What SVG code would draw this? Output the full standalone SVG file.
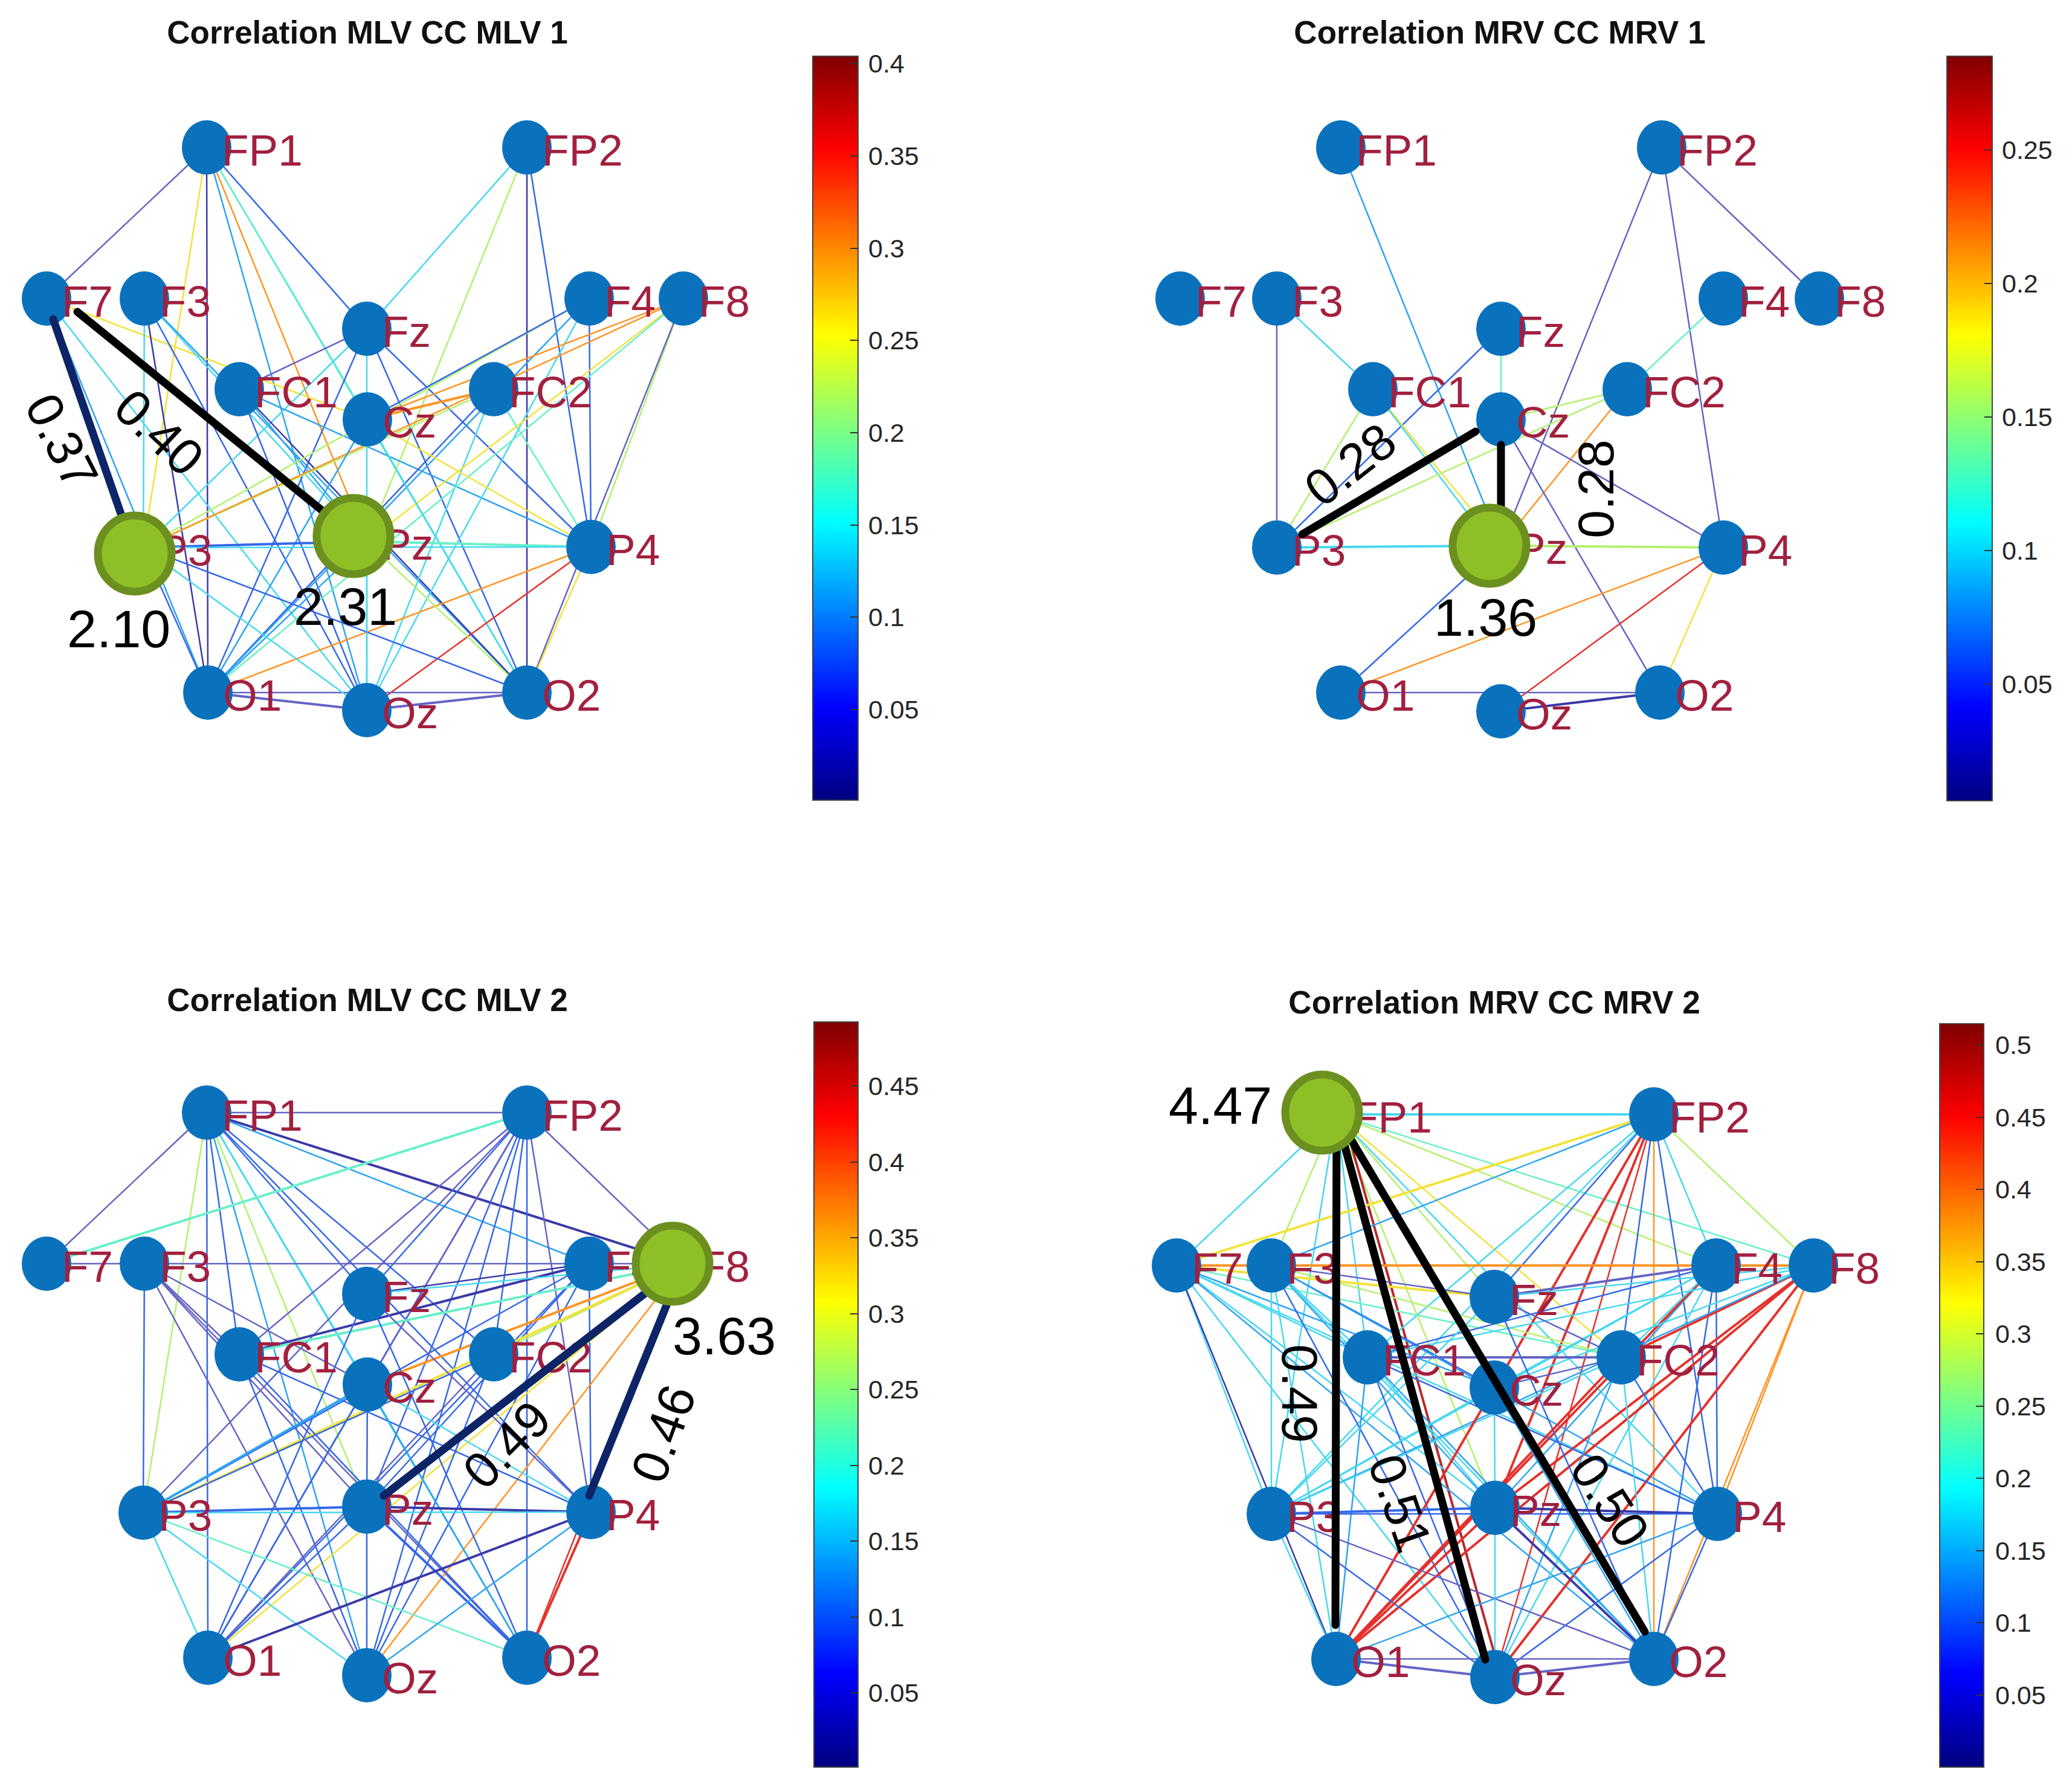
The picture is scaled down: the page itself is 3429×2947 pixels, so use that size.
<svg xmlns="http://www.w3.org/2000/svg" width="3429" height="2947" viewBox="0 0 3429 2947">
<defs>
<linearGradient id="jet" x1="0" y1="1" x2="0" y2="0">
<stop offset="0" stop-color="#000080"/><stop offset="0.125" stop-color="#0000ff"/><stop offset="0.375" stop-color="#00ffff"/><stop offset="0.5" stop-color="#80ff80"/><stop offset="0.625" stop-color="#ffff00"/><stop offset="0.875" stop-color="#ff0000"/><stop offset="1" stop-color="#800000"/>
</linearGradient>
<style>
.e line{fill:none;stroke-width:2.5;stroke-linecap:round}
.e .t{stroke-width:4}
.n{stroke:#3a3aa8}.p{stroke:#6464c4}.b{stroke:#3468e8}.lb{stroke:#2ea4f2}.c{stroke:#48d8f0}.a{stroke:#68f0c8}.g{stroke:#b4f070}.y{stroke:#f2e23a}.o{stroke:#ff9424}.r{stroke:#e4312c}.dr{stroke:#b82828}
.node ellipse{fill:#0a72bd}
.node text{font-family:"Liberation Sans",Arial,sans-serif;font-size:73px;fill:#a2203f}
.hl{fill:#8fbf26;stroke:#6b9020;stroke-width:13}
.s line{stroke-linecap:round;fill:none}
.blk{stroke:#000;stroke-width:13}
.navy{stroke:#0d2466;stroke-width:13}
.val{font-family:"Liberation Sans",Arial,sans-serif;font-size:88px;fill:#000}
.el{font-family:"Liberation Sans",Arial,sans-serif;font-size:84px;fill:#000;text-anchor:middle}
.title{font-family:"Liberation Sans",Arial,sans-serif;font-weight:bold;font-size:53px;text-anchor:middle;fill:#111}
.bar{fill:url(#jet);stroke:#444;stroke-width:2}
.tick{stroke:#333;stroke-width:2}
.tl{font-family:"Liberation Sans",Arial,sans-serif;font-size:43px;fill:#262626}
</style>
</defs>
<rect width="3429" height="2947" fill="#fff"/>

<!-- ================= PANEL 1 ================= -->
<g id="panel1">
<text class="title" x="608" y="72">Correlation MLV CC MLV 1</text>
<g id="p1-edges" class="e">
<line class="p" x1="342" y1="244" x2="77" y2="494"/>
<line class="y" x1="342" y1="244" x2="237" y2="906"/>
<line class="n" x1="342" y1="244" x2="344" y2="1146"/>
<line class="o" x1="342" y1="244" x2="607" y2="896"/>
<line class="b" x1="342" y1="244" x2="607" y2="544"/>
<line class="c" x1="342" y1="244" x2="608" y2="694"/>
<line class="lb" x1="342" y1="244" x2="607" y2="1175"/>
<line class="a" x1="342" y1="244" x2="872" y2="1146"/>
<line class="c" x1="872" y1="244" x2="607" y2="544"/>
<line class="g" x1="872" y1="244" x2="607" y2="896"/>
<line class="n" x1="872" y1="244" x2="872" y2="1146"/>
<line class="b" x1="872" y1="244" x2="978" y2="905"/>
<line class="y" x1="77" y1="494" x2="608" y2="694"/>
<line class="c" x1="77" y1="494" x2="607" y2="1175"/>
<line class="lb" x1="77" y1="494" x2="344" y2="1146"/>
<line class="n" x1="239" y1="494" x2="344" y2="1146"/>
<line class="b" x1="239" y1="494" x2="607" y2="1175"/>
<line class="c" x1="239" y1="494" x2="607" y2="896"/>
<line class="c" x1="239" y1="494" x2="237" y2="906"/>
<line class="lb" x1="239" y1="494" x2="872" y2="1146"/>
<line class="p" x1="607" y1="544" x2="396" y2="644"/>
<line class="c" x1="607" y1="544" x2="237" y2="906"/>
<line class="b" x1="607" y1="544" x2="344" y2="1146"/>
<line class="c" x1="607" y1="544" x2="607" y2="1175"/>
<line class="b" x1="607" y1="544" x2="872" y2="1146"/>
<line class="b" x1="607" y1="544" x2="978" y2="905"/>
<line class="b" x1="396" y1="644" x2="607" y2="1175"/>
<line class="n" x1="396" y1="644" x2="872" y2="1146"/>
<line class="lb" x1="396" y1="644" x2="978" y2="905"/>
<line class="lb" x1="396" y1="644" x2="607" y2="896"/>
<line class="g" x1="817" y1="644" x2="237" y2="906"/>
<line class="b" x1="817" y1="644" x2="344" y2="1146"/>
<line class="c" x1="817" y1="644" x2="607" y2="1175"/>
<line class="a" x1="817" y1="644" x2="978" y2="905"/>
<line class="g" x1="975" y1="494" x2="237" y2="906"/>
<line class="b" x1="975" y1="494" x2="608" y2="694"/>
<line class="lb" x1="975" y1="494" x2="344" y2="1146"/>
<line class="c" x1="975" y1="494" x2="607" y2="1175"/>
<line class="b" x1="975" y1="494" x2="978" y2="905"/>
<line class="o" x1="1131" y1="494" x2="608" y2="694"/>
<line class="o" x1="1131" y1="494" x2="237" y2="906"/>
<line class="g" x1="1131" y1="494" x2="978" y2="905"/>
<line class="p" x1="1131" y1="494" x2="872" y2="1146"/>
<line class="y" x1="1131" y1="494" x2="607" y2="896"/>
<line class="a" x1="1131" y1="494" x2="344" y2="1146"/>
<line class="o t" x1="608" y1="694" x2="817" y2="644"/>
<line class="y" x1="608" y1="694" x2="978" y2="905"/>
<line class="lb" x1="608" y1="694" x2="344" y2="1146"/>
<line class="c" x1="608" y1="694" x2="872" y2="1146"/>
<line class="b t" x1="237" y1="906" x2="607" y2="896"/>
<line class="a t" x1="607" y1="896" x2="978" y2="905"/>
<line class="c" x1="237" y1="906" x2="978" y2="905"/>
<line class="o" x1="978" y1="905" x2="344" y2="1146"/>
<line class="r" x1="978" y1="905" x2="607" y2="1175"/>
<line class="y" x1="978" y1="905" x2="872" y2="1146"/>
<line class="p t" x1="344" y1="1146" x2="607" y2="1175"/>
<line class="p" x1="344" y1="1146" x2="872" y2="1146"/>
<line class="p t" x1="607" y1="1175" x2="872" y2="1146"/>
<line class="b" x1="237" y1="906" x2="872" y2="1146"/>
<line class="g" x1="607" y1="896" x2="872" y2="1146"/>
<line class="b" x1="237" y1="906" x2="344" y2="1146"/>
<line class="lb" x1="607" y1="896" x2="344" y2="1146"/>
<line class="c" x1="237" y1="906" x2="607" y2="1175"/>
<line class="c" x1="607" y1="896" x2="607" y2="1175"/>
</g>
<g id="p1-FP1" class="node"><ellipse cx="342" cy="244" rx="41" ry="45"/><text x="367" y="274">FP1</text></g>
<g id="p1-FP2" class="node"><ellipse cx="872" cy="244" rx="41" ry="45"/><text x="897" y="274">FP2</text></g>
<g id="p1-F7" class="node"><ellipse cx="77" cy="494" rx="41" ry="45"/><text x="102" y="524">F7</text></g>
<g id="p1-F3" class="node"><ellipse cx="239" cy="494" rx="41" ry="45"/><text x="264" y="524">F3</text></g>
<g id="p1-F4" class="node"><ellipse cx="975" cy="494" rx="41" ry="45"/><text x="1000" y="524">F4</text></g>
<g id="p1-F8" class="node"><ellipse cx="1131" cy="494" rx="41" ry="45"/><text x="1156" y="524">F8</text></g>
<g id="p1-Fz" class="node"><ellipse cx="607" cy="544" rx="41" ry="45"/><text x="632" y="574">Fz</text></g>
<g id="p1-FC1" class="node"><ellipse cx="396" cy="644" rx="41" ry="45"/><text x="421" y="674">FC1</text></g>
<g id="p1-FC2" class="node"><ellipse cx="817" cy="644" rx="41" ry="45"/><text x="842" y="674">FC2</text></g>
<g id="p1-Cz" class="node"><ellipse cx="608" cy="694" rx="41" ry="45"/><text x="633" y="724">Cz</text></g>
<g id="p1-P3" class="node"><ellipse cx="237" cy="906" rx="41" ry="45"/><text x="262" y="936">P3</text></g>
<g id="p1-Pz" class="node"><ellipse cx="607" cy="896" rx="41" ry="45"/><text x="632" y="926">Pz</text></g>
<g id="p1-P4" class="node"><ellipse cx="978" cy="905" rx="41" ry="45"/><text x="1003" y="935">P4</text></g>
<g id="p1-O1" class="node"><ellipse cx="344" cy="1146" rx="41" ry="45"/><text x="369" y="1176">O1</text></g>
<g id="p1-Oz" class="node"><ellipse cx="607" cy="1175" rx="41" ry="45"/><text x="632" y="1205">Oz</text></g>
<g id="p1-O2" class="node"><ellipse cx="872" cy="1146" rx="41" ry="45"/><text x="897" y="1176">O2</text></g>
<g id="p1-strong" class="s">
<line class="navy" x1="88" y1="528" x2="223" y2="916"/>
<line class="blk" x1="128" y1="516" x2="585" y2="887"/>
</g>
<g id="p1-P3-hl"><ellipse class="hl" cx="223" cy="916" rx="61" ry="63"/><text class="val" x="111" y="1071">2.10</text></g>
<g id="p1-Pz-hl"><ellipse class="hl" cx="585" cy="887" rx="61" ry="63"/><text class="val" x="486" y="1034">2.31</text></g>
<text class="el" transform="translate(103,730) rotate(63)" y="30">0.37</text>
<text class="el" transform="translate(264,715) rotate(43)" y="30">0.40</text>
<g id="p1-colorbar">
<rect class="bar" x="1345" y="93" width="75" height="1231"/>
<line class="tick" x1="1407" y1="105" x2="1420" y2="105"/><text class="tl" x="1437" y="120">0.4</text>
<line class="tick" x1="1407" y1="258" x2="1420" y2="258"/><text class="tl" x="1437" y="273">0.35</text>
<line class="tick" x1="1407" y1="411" x2="1420" y2="411"/><text class="tl" x="1437" y="426">0.3</text>
<line class="tick" x1="1407" y1="563" x2="1420" y2="563"/><text class="tl" x="1437" y="578">0.25</text>
<line class="tick" x1="1407" y1="716" x2="1420" y2="716"/><text class="tl" x="1437" y="731">0.2</text>
<line class="tick" x1="1407" y1="869" x2="1420" y2="869"/><text class="tl" x="1437" y="884">0.15</text>
<line class="tick" x1="1407" y1="1021" x2="1420" y2="1021"/><text class="tl" x="1437" y="1036">0.1</text>
<line class="tick" x1="1407" y1="1174" x2="1420" y2="1174"/><text class="tl" x="1437" y="1189">0.05</text>
</g>
</g>

<!-- ================= PANEL 2 ================= -->
<g id="panel2">
<text class="title" x="2482" y="72">Correlation MRV CC MRV 1</text>
<g id="p2-edges" class="e">
<line class="lb" x1="2219" y1="244" x2="2484" y2="903"/>
<line class="p" x1="2750" y1="244" x2="2484" y2="903"/>
<line class="p" x1="2750" y1="244" x2="2852" y2="906"/>
<line class="p" x1="2750" y1="244" x2="3011" y2="494"/>
<line class="p" x1="2113" y1="494" x2="2113" y2="906"/>
<line class="c" x1="2113" y1="494" x2="2272" y2="644"/>
<line class="b" x1="2484" y1="544" x2="2113" y2="906"/>
<line class="a" x1="2484" y1="544" x2="2484" y2="694"/>
<line class="a" x1="2852" y1="494" x2="2693" y2="644"/>
<line class="g" x1="2693" y1="644" x2="2484" y2="694"/>
<line class="o" x1="2693" y1="644" x2="2484" y2="903"/>
<line class="y" x1="2272" y1="644" x2="2484" y2="903"/>
<line class="c" x1="2272" y1="644" x2="2470" y2="903"/>
<line class="g" x1="2272" y1="644" x2="2113" y2="906"/>
<line class="g" x1="2693" y1="644" x2="2113" y2="906"/>
<line class="c" x1="2484" y1="694" x2="2113" y2="906"/>
<line class="p" x1="2484" y1="694" x2="2852" y2="906"/>
<line class="p" x1="2484" y1="694" x2="2747" y2="1146"/>
<line class="c t" x1="2113" y1="906" x2="2484" y2="903"/>
<line class="g t" x1="2484" y1="903" x2="2852" y2="906"/>
<line class="o" x1="2852" y1="906" x2="2219" y2="1146"/>
<line class="r" x1="2852" y1="906" x2="2484" y2="1177"/>
<line class="y" x1="2852" y1="906" x2="2747" y2="1146"/>
<line class="b" x1="2484" y1="903" x2="2219" y2="1146"/>
<line class="p" x1="2219" y1="1146" x2="2747" y2="1146"/>
<line class="n t" x1="2484" y1="1177" x2="2747" y2="1146"/>
</g>
<g id="p2-FP1" class="node"><ellipse cx="2219" cy="244" rx="41" ry="45"/><text x="2244" y="274">FP1</text></g>
<g id="p2-FP2" class="node"><ellipse cx="2750" cy="244" rx="41" ry="45"/><text x="2775" y="274">FP2</text></g>
<g id="p2-F7" class="node"><ellipse cx="1953" cy="494" rx="41" ry="45"/><text x="1978" y="524">F7</text></g>
<g id="p2-F3" class="node"><ellipse cx="2113" cy="494" rx="41" ry="45"/><text x="2138" y="524">F3</text></g>
<g id="p2-F4" class="node"><ellipse cx="2852" cy="494" rx="41" ry="45"/><text x="2877" y="524">F4</text></g>
<g id="p2-F8" class="node"><ellipse cx="3011" cy="494" rx="41" ry="45"/><text x="3036" y="524">F8</text></g>
<g id="p2-Fz" class="node"><ellipse cx="2484" cy="544" rx="41" ry="45"/><text x="2509" y="574">Fz</text></g>
<g id="p2-FC1" class="node"><ellipse cx="2272" cy="644" rx="41" ry="45"/><text x="2297" y="674">FC1</text></g>
<g id="p2-FC2" class="node"><ellipse cx="2693" cy="644" rx="41" ry="45"/><text x="2718" y="674">FC2</text></g>
<g id="p2-Cz" class="node"><ellipse cx="2484" cy="694" rx="41" ry="45"/><text x="2509" y="724">Cz</text></g>
<g id="p2-P3" class="node"><ellipse cx="2113" cy="906" rx="41" ry="45"/><text x="2138" y="936">P3</text></g>
<g id="p2-Pz" class="node"><ellipse cx="2484" cy="903" rx="41" ry="45"/><text x="2509" y="933">Pz</text></g>
<g id="p2-P4" class="node"><ellipse cx="2852" cy="906" rx="41" ry="45"/><text x="2877" y="936">P4</text></g>
<g id="p2-O1" class="node"><ellipse cx="2219" cy="1146" rx="41" ry="45"/><text x="2244" y="1176">O1</text></g>
<g id="p2-Oz" class="node"><ellipse cx="2484" cy="1177" rx="41" ry="45"/><text x="2509" y="1207">Oz</text></g>
<g id="p2-O2" class="node"><ellipse cx="2747" cy="1146" rx="41" ry="45"/><text x="2772" y="1176">O2</text></g>
<g id="p2-strong" class="s">
<line class="blk" x1="2155" y1="884" x2="2442" y2="714"/>
<line class="blk" x1="2484" y1="736" x2="2484" y2="900"/>
</g>
<g id="p2-Pz-hl"><ellipse class="hl" cx="2465" cy="903" rx="61" ry="63"/><text class="val" x="2373" y="1052">1.36</text></g>
<text class="el" transform="translate(2234,768) rotate(-38)" y="30">0.28</text>
<text class="el" transform="translate(2640,809) rotate(-90)" y="30">0.28</text>
<g id="p2-colorbar">
<rect class="bar" x="3222" y="93" width="75" height="1232"/>
<line class="tick" x1="3284" y1="248" x2="3297" y2="248"/><text class="tl" x="3313" y="263">0.25</text>
<line class="tick" x1="3284" y1="469" x2="3297" y2="469"/><text class="tl" x="3313" y="484">0.2</text>
<line class="tick" x1="3284" y1="690" x2="3297" y2="690"/><text class="tl" x="3313" y="705">0.15</text>
<line class="tick" x1="3284" y1="911" x2="3297" y2="911"/><text class="tl" x="3313" y="926">0.1</text>
<line class="tick" x1="3284" y1="1132" x2="3297" y2="1132"/><text class="tl" x="3313" y="1147">0.05</text>
</g>
</g>

<!-- ================= PANEL 3 ================= -->
<g id="panel3">
<text class="title" x="608" y="1673">Correlation MLV CC MLV 2</text>
<g id="p3-edges" class="e">
<line class="p" x1="342" y1="1841" x2="872" y2="1841"/>
<line class="p" x1="342" y1="1841" x2="77" y2="2091"/>
<line class="n t" x1="342" y1="1841" x2="1131" y2="2091"/>
<line class="lb" x1="342" y1="1841" x2="975" y2="2091"/>
<line class="b" x1="342" y1="1841" x2="607" y2="2141"/>
<line class="b" x1="342" y1="1841" x2="396" y2="2241"/>
<line class="c" x1="342" y1="1841" x2="608" y2="2291"/>
<line class="g" x1="342" y1="1841" x2="607" y2="2493"/>
<line class="g" x1="342" y1="1841" x2="237" y2="2503"/>
<line class="b" x1="342" y1="1841" x2="344" y2="2743"/>
<line class="lb" x1="342" y1="1841" x2="607" y2="2772"/>
<line class="b" x1="342" y1="1841" x2="978" y2="2502"/>
<line class="b" x1="342" y1="1841" x2="817" y2="2241"/>
<line class="c" x1="342" y1="1841" x2="872" y2="2743"/>
<line class="a t" x1="872" y1="1841" x2="77" y2="2091"/>
<line class="p" x1="872" y1="1841" x2="1131" y2="2091"/>
<line class="b" x1="872" y1="1841" x2="607" y2="2141"/>
<line class="p" x1="872" y1="1841" x2="396" y2="2241"/>
<line class="b" x1="872" y1="1841" x2="608" y2="2291"/>
<line class="p" x1="872" y1="1841" x2="237" y2="2503"/>
<line class="b" x1="872" y1="1841" x2="607" y2="2493"/>
<line class="p" x1="872" y1="1841" x2="344" y2="2743"/>
<line class="b" x1="872" y1="1841" x2="607" y2="2772"/>
<line class="b" x1="872" y1="1841" x2="872" y2="2743"/>
<line class="p" x1="872" y1="1841" x2="978" y2="2502"/>
<line class="b" x1="872" y1="1841" x2="817" y2="2241"/>
<line class="p" x1="77" y1="2091" x2="1131" y2="2091"/>
<line class="p" x1="239" y1="2091" x2="608" y2="2291"/>
<line class="p" x1="239" y1="2091" x2="607" y2="2493"/>
<line class="b" x1="239" y1="2091" x2="237" y2="2503"/>
<line class="p" x1="239" y1="2091" x2="607" y2="2772"/>
<line class="p" x1="239" y1="2091" x2="396" y2="2241"/>
<line class="p" x1="239" y1="2091" x2="872" y2="2743"/>
<line class="n t" x1="975" y1="2091" x2="396" y2="2241"/>
<line class="n" x1="975" y1="2091" x2="607" y2="2141"/>
<line class="b" x1="975" y1="2091" x2="237" y2="2503"/>
<line class="b" x1="975" y1="2091" x2="344" y2="2743"/>
<line class="b" x1="975" y1="2091" x2="607" y2="2772"/>
<line class="b" x1="975" y1="2091" x2="607" y2="2493"/>
<line class="b" x1="975" y1="2091" x2="978" y2="2502"/>
<line class="a t" x1="1131" y1="2091" x2="396" y2="2241"/>
<line class="o t" x1="1131" y1="2091" x2="608" y2="2291"/>
<line class="g" x1="1131" y1="2091" x2="817" y2="2241"/>
<line class="y t" x1="1131" y1="2091" x2="237" y2="2503"/>
<line class="y" x1="1131" y1="2091" x2="344" y2="2743"/>
<line class="o" x1="1131" y1="2091" x2="607" y2="2772"/>
<line class="r" x1="1131" y1="2091" x2="872" y2="2743"/>
<line class="c" x1="1131" y1="2091" x2="607" y2="2141"/>
<line class="b" x1="607" y1="2141" x2="344" y2="2743"/>
<line class="p" x1="607" y1="2141" x2="978" y2="2502"/>
<line class="b" x1="607" y1="2141" x2="872" y2="2743"/>
<line class="b" x1="396" y1="2241" x2="872" y2="2743"/>
<line class="b" x1="396" y1="2241" x2="978" y2="2502"/>
<line class="b" x1="396" y1="2241" x2="607" y2="2772"/>
<line class="b" x1="817" y1="2241" x2="237" y2="2503"/>
<line class="p" x1="817" y1="2241" x2="344" y2="2743"/>
<line class="b" x1="817" y1="2241" x2="607" y2="2772"/>
<line class="lb t" x1="608" y1="2291" x2="237" y2="2503"/>
<line class="c" x1="608" y1="2291" x2="978" y2="2502"/>
<line class="b" x1="608" y1="2291" x2="344" y2="2743"/>
<line class="lb" x1="608" y1="2291" x2="872" y2="2743"/>
<line class="b" x1="608" y1="2291" x2="607" y2="2493"/>
<line class="b t" x1="237" y1="2503" x2="607" y2="2493"/>
<line class="n t" x1="607" y1="2493" x2="978" y2="2502"/>
<line class="c" x1="237" y1="2503" x2="978" y2="2502"/>
<line class="c" x1="237" y1="2503" x2="344" y2="2743"/>
<line class="c" x1="237" y1="2503" x2="607" y2="2772"/>
<line class="a" x1="237" y1="2503" x2="872" y2="2743"/>
<line class="b" x1="607" y1="2493" x2="344" y2="2743"/>
<line class="b t" x1="607" y1="2493" x2="872" y2="2743"/>
<line class="b" x1="607" y1="2493" x2="607" y2="2772"/>
<line class="n t" x1="978" y1="2502" x2="344" y2="2743"/>
<line class="lb" x1="978" y1="2502" x2="607" y2="2772"/>
<line class="r t" x1="978" y1="2502" x2="872" y2="2743"/>
</g>
<g id="p3-FP1" class="node"><ellipse cx="342" cy="1841" rx="41" ry="45"/><text x="367" y="1871">FP1</text></g>
<g id="p3-FP2" class="node"><ellipse cx="872" cy="1841" rx="41" ry="45"/><text x="897" y="1871">FP2</text></g>
<g id="p3-F7" class="node"><ellipse cx="77" cy="2091" rx="41" ry="45"/><text x="102" y="2121">F7</text></g>
<g id="p3-F3" class="node"><ellipse cx="239" cy="2091" rx="41" ry="45"/><text x="264" y="2121">F3</text></g>
<g id="p3-F4" class="node"><ellipse cx="975" cy="2091" rx="41" ry="45"/><text x="1000" y="2121">F4</text></g>
<g id="p3-F8" class="node"><ellipse cx="1131" cy="2091" rx="41" ry="45"/><text x="1156" y="2121">F8</text></g>
<g id="p3-Fz" class="node"><ellipse cx="607" cy="2141" rx="41" ry="45"/><text x="632" y="2171">Fz</text></g>
<g id="p3-FC1" class="node"><ellipse cx="396" cy="2241" rx="41" ry="45"/><text x="421" y="2271">FC1</text></g>
<g id="p3-FC2" class="node"><ellipse cx="817" cy="2241" rx="41" ry="45"/><text x="842" y="2271">FC2</text></g>
<g id="p3-Cz" class="node"><ellipse cx="608" cy="2291" rx="41" ry="45"/><text x="633" y="2321">Cz</text></g>
<g id="p3-P3" class="node"><ellipse cx="237" cy="2503" rx="41" ry="45"/><text x="262" y="2533">P3</text></g>
<g id="p3-Pz" class="node"><ellipse cx="607" cy="2493" rx="41" ry="45"/><text x="632" y="2523">Pz</text></g>
<g id="p3-P4" class="node"><ellipse cx="978" cy="2502" rx="41" ry="45"/><text x="1003" y="2532">P4</text></g>
<g id="p3-O1" class="node"><ellipse cx="344" cy="2743" rx="41" ry="45"/><text x="369" y="2773">O1</text></g>
<g id="p3-Oz" class="node"><ellipse cx="607" cy="2772" rx="41" ry="45"/><text x="632" y="2802">Oz</text></g>
<g id="p3-O2" class="node"><ellipse cx="872" cy="2743" rx="41" ry="45"/><text x="897" y="2773">O2</text></g>
<g id="p3-strong" class="s">
<line class="navy" x1="635" y1="2475" x2="1131" y2="2091"/>
<line class="navy" x1="975" y1="2475" x2="1131" y2="2091"/>
</g>
<g id="p3-F8-hl"><ellipse class="hl" cx="1113" cy="2091" rx="61" ry="63"/><text class="val" x="1113" y="2241">3.63</text></g>
<text class="el" transform="translate(838,2390) rotate(-45)" y="30">0.49</text>
<text class="el" transform="translate(1097,2372) rotate(-70)" y="30">0.46</text>
<g id="p3-colorbar">
<rect class="bar" x="1347" y="1691" width="73" height="1233"/>
<line class="tick" x1="1407" y1="1797" x2="1420" y2="1797"/><text class="tl" x="1437" y="1812">0.45</text>
<line class="tick" x1="1407" y1="1923" x2="1420" y2="1923"/><text class="tl" x="1437" y="1938">0.4</text>
<line class="tick" x1="1407" y1="2048" x2="1420" y2="2048"/><text class="tl" x="1437" y="2063">0.35</text>
<line class="tick" x1="1407" y1="2174" x2="1420" y2="2174"/><text class="tl" x="1437" y="2189">0.3</text>
<line class="tick" x1="1407" y1="2299" x2="1420" y2="2299"/><text class="tl" x="1437" y="2314">0.25</text>
<line class="tick" x1="1407" y1="2425" x2="1420" y2="2425"/><text class="tl" x="1437" y="2440">0.2</text>
<line class="tick" x1="1407" y1="2550" x2="1420" y2="2550"/><text class="tl" x="1437" y="2565">0.15</text>
<line class="tick" x1="1407" y1="2676" x2="1420" y2="2676"/><text class="tl" x="1437" y="2691">0.1</text>
<line class="tick" x1="1407" y1="2801" x2="1420" y2="2801"/><text class="tl" x="1437" y="2816">0.05</text>
</g>
</g>

<!-- ================= PANEL 4 ================= -->
<g id="panel4">
<text class="title" x="2473" y="1677">Correlation MRV CC MRV 2</text>
<g id="p4-edges" class="e">
<line class="c t" x1="2211" y1="1844" x2="2737" y2="1844"/>
<line class="c" x1="2211" y1="1844" x2="1947" y2="2094"/>
<line class="g" x1="2211" y1="1844" x2="2104" y2="2094"/>
<line class="g" x1="2211" y1="1844" x2="2840" y2="2094"/>
<line class="a" x1="2211" y1="1844" x2="3001" y2="2094"/>
<line class="g" x1="2211" y1="1844" x2="2473" y2="2146"/>
<line class="y" x1="2211" y1="1844" x2="2683" y2="2246"/>
<line class="c" x1="2211" y1="1844" x2="2473" y2="2296"/>
<line class="c" x1="2211" y1="1844" x2="2263" y2="2246"/>
<line class="g" x1="2211" y1="1844" x2="2474" y2="2495"/>
<line class="c" x1="2211" y1="1844" x2="2104" y2="2505"/>
<line class="c" x1="2211" y1="1844" x2="2842" y2="2505"/>
<line class="dr t" x1="2222" y1="1844" x2="2484" y2="2775"/>
<line class="y t" x1="2737" y1="1844" x2="1947" y2="2094"/>
<line class="lb" x1="2737" y1="1844" x2="2104" y2="2094"/>
<line class="g" x1="2737" y1="1844" x2="3001" y2="2094"/>
<line class="c" x1="2737" y1="1844" x2="2840" y2="2094"/>
<line class="b" x1="2737" y1="1844" x2="2473" y2="2146"/>
<line class="c" x1="2737" y1="1844" x2="2263" y2="2246"/>
<line class="r t" x1="2737" y1="1844" x2="2473" y2="2296"/>
<line class="r t" x1="2737" y1="1844" x2="2474" y2="2495"/>
<line class="r" x1="2737" y1="1844" x2="2211" y2="2745"/>
<line class="r" x1="2737" y1="1844" x2="2474" y2="2775"/>
<line class="o" x1="2737" y1="1844" x2="2737" y2="2745"/>
<line class="b" x1="2737" y1="1844" x2="2683" y2="2246"/>
<line class="b" x1="2737" y1="1844" x2="2842" y2="2505"/>
<line class="c" x1="2737" y1="1844" x2="2104" y2="2505"/>
<line class="o t" x1="1947" y1="2094" x2="3001" y2="2094"/>
<line class="y t" x1="1947" y1="2094" x2="2473" y2="2146"/>
<line class="c" x1="1947" y1="2094" x2="2263" y2="2246"/>
<line class="lb" x1="1947" y1="2094" x2="2473" y2="2296"/>
<line class="c" x1="1947" y1="2094" x2="2474" y2="2495"/>
<line class="c" x1="1947" y1="2094" x2="2104" y2="2505"/>
<line class="n" x1="1947" y1="2094" x2="2211" y2="2745"/>
<line class="c" x1="1947" y1="2094" x2="2474" y2="2775"/>
<line class="lb" x1="1947" y1="2094" x2="2737" y2="2745"/>
<line class="a" x1="1947" y1="2094" x2="2683" y2="2246"/>
<line class="c" x1="1947" y1="2094" x2="2842" y2="2505"/>
<line class="p" x1="2104" y1="2094" x2="2473" y2="2146"/>
<line class="c" x1="2104" y1="2094" x2="2263" y2="2246"/>
<line class="b" x1="2104" y1="2094" x2="2473" y2="2296"/>
<line class="lb" x1="2104" y1="2094" x2="2474" y2="2495"/>
<line class="c" x1="2104" y1="2094" x2="2211" y2="2745"/>
<line class="b" x1="2104" y1="2094" x2="2474" y2="2775"/>
<line class="c" x1="2104" y1="2094" x2="2737" y2="2745"/>
<line class="g" x1="2104" y1="2094" x2="2683" y2="2246"/>
<line class="lb" x1="2104" y1="2094" x2="2842" y2="2505"/>
<line class="c" x1="2104" y1="2094" x2="2104" y2="2505"/>
<line class="p t" x1="2840" y1="2094" x2="2473" y2="2146"/>
<line class="b" x1="2840" y1="2094" x2="2263" y2="2246"/>
<line class="c" x1="2840" y1="2094" x2="2473" y2="2296"/>
<line class="lb" x1="2840" y1="2094" x2="2474" y2="2495"/>
<line class="c" x1="2840" y1="2094" x2="2104" y2="2505"/>
<line class="r t" x1="2840" y1="2094" x2="2211" y2="2745"/>
<line class="c" x1="2840" y1="2094" x2="2474" y2="2775"/>
<line class="b" x1="2840" y1="2094" x2="2737" y2="2745"/>
<line class="b" x1="2840" y1="2094" x2="2842" y2="2505"/>
<line class="c" x1="2840" y1="2094" x2="2683" y2="2246"/>
<line class="r t" x1="3001" y1="2094" x2="2683" y2="2246"/>
<line class="c" x1="3001" y1="2094" x2="2473" y2="2296"/>
<line class="r t" x1="3001" y1="2094" x2="2474" y2="2495"/>
<line class="r t" x1="3001" y1="2094" x2="2211" y2="2745"/>
<line class="r t" x1="3001" y1="2094" x2="2474" y2="2775"/>
<line class="o" x1="3001" y1="2094" x2="2842" y2="2505"/>
<line class="o" x1="3001" y1="2094" x2="2737" y2="2745"/>
<line class="c" x1="3001" y1="2094" x2="2263" y2="2246"/>
<line class="lb" x1="3001" y1="2094" x2="2104" y2="2505"/>
<line class="c" x1="3001" y1="2094" x2="2473" y2="2146"/>
<line class="p" x1="2473" y1="2146" x2="2683" y2="2246"/>
<line class="b" x1="2473" y1="2146" x2="2737" y2="2745"/>
<line class="c" x1="2473" y1="2146" x2="2104" y2="2505"/>
<line class="p t" x1="2263" y1="2246" x2="2683" y2="2246"/>
<line class="lb" x1="2263" y1="2246" x2="2211" y2="2745"/>
<line class="b" x1="2263" y1="2246" x2="2474" y2="2775"/>
<line class="lb" x1="2263" y1="2246" x2="2737" y2="2745"/>
<line class="b" x1="2263" y1="2246" x2="2842" y2="2505"/>
<line class="c" x1="2263" y1="2246" x2="2474" y2="2495"/>
<line class="p" x1="2683" y1="2246" x2="2473" y2="2296"/>
<line class="c" x1="2683" y1="2246" x2="2104" y2="2505"/>
<line class="r t" x1="2683" y1="2246" x2="2211" y2="2745"/>
<line class="lb" x1="2683" y1="2246" x2="2474" y2="2775"/>
<line class="c" x1="2683" y1="2246" x2="2737" y2="2745"/>
<line class="b" x1="2683" y1="2246" x2="2842" y2="2505"/>
<line class="r t" x1="2473" y1="2296" x2="2211" y2="2745"/>
<line class="c" x1="2473" y1="2296" x2="2474" y2="2495"/>
<line class="lb" x1="2473" y1="2296" x2="2737" y2="2745"/>
<line class="c" x1="2473" y1="2296" x2="2104" y2="2505"/>
<line class="b t" x1="2104" y1="2505" x2="2474" y2="2495"/>
<line class="n t" x1="2474" y1="2495" x2="2842" y2="2505"/>
<line class="b" x1="2104" y1="2505" x2="2842" y2="2505"/>
<line class="c" x1="2104" y1="2505" x2="2211" y2="2745"/>
<line class="b" x1="2104" y1="2505" x2="2474" y2="2775"/>
<line class="p" x1="2104" y1="2505" x2="2737" y2="2745"/>
<line class="r t" x1="2474" y1="2495" x2="2211" y2="2745"/>
<line class="c" x1="2474" y1="2495" x2="2474" y2="2775"/>
<line class="n t" x1="2474" y1="2495" x2="2737" y2="2745"/>
<line class="lb" x1="2842" y1="2505" x2="2211" y2="2745"/>
<line class="b" x1="2842" y1="2505" x2="2474" y2="2775"/>
<line class="b" x1="2842" y1="2505" x2="2737" y2="2745"/>
<line class="p t" x1="2211" y1="2745" x2="2474" y2="2775"/>
<line class="p" x1="2211" y1="2745" x2="2737" y2="2745"/>
<line class="p t" x1="2474" y1="2775" x2="2737" y2="2745"/>
</g>
<g id="p4-FP1" class="node"><ellipse cx="2211" cy="1844" rx="41" ry="45"/><text x="2236" y="1874">FP1</text></g>
<g id="p4-FP2" class="node"><ellipse cx="2737" cy="1844" rx="41" ry="45"/><text x="2762" y="1874">FP2</text></g>
<g id="p4-F7" class="node"><ellipse cx="1947" cy="2094" rx="41" ry="45"/><text x="1972" y="2124">F7</text></g>
<g id="p4-F3" class="node"><ellipse cx="2104" cy="2094" rx="41" ry="45"/><text x="2129" y="2124">F3</text></g>
<g id="p4-F4" class="node"><ellipse cx="2840" cy="2094" rx="41" ry="45"/><text x="2865" y="2124">F4</text></g>
<g id="p4-F8" class="node"><ellipse cx="3001" cy="2094" rx="41" ry="45"/><text x="3026" y="2124">F8</text></g>
<g id="p4-Fz" class="node"><ellipse cx="2473" cy="2146" rx="41" ry="45"/><text x="2498" y="2176">Fz</text></g>
<g id="p4-FC1" class="node"><ellipse cx="2263" cy="2246" rx="41" ry="45"/><text x="2288" y="2276">FC1</text></g>
<g id="p4-FC2" class="node"><ellipse cx="2683" cy="2246" rx="41" ry="45"/><text x="2708" y="2276">FC2</text></g>
<g id="p4-Cz" class="node"><ellipse cx="2473" cy="2296" rx="41" ry="45"/><text x="2498" y="2326">Cz</text></g>
<g id="p4-P3" class="node"><ellipse cx="2104" cy="2505" rx="41" ry="45"/><text x="2129" y="2535">P3</text></g>
<g id="p4-Pz" class="node"><ellipse cx="2474" cy="2495" rx="41" ry="45"/><text x="2499" y="2525">Pz</text></g>
<g id="p4-P4" class="node"><ellipse cx="2842" cy="2505" rx="41" ry="45"/><text x="2867" y="2535">P4</text></g>
<g id="p4-O1" class="node"><ellipse cx="2211" cy="2745" rx="41" ry="45"/><text x="2236" y="2775">O1</text></g>
<g id="p4-Oz" class="node"><ellipse cx="2474" cy="2775" rx="41" ry="45"/><text x="2499" y="2805">Oz</text></g>
<g id="p4-O2" class="node"><ellipse cx="2737" cy="2745" rx="41" ry="45"/><text x="2762" y="2775">O2</text></g>
<g id="p4-strong" class="s">
<line class="blk" x1="2212" y1="1844" x2="2210" y2="2689"/>
<line class="blk" x1="2211" y1="1844" x2="2458" y2="2746"/>
<line class="blk" x1="2211" y1="1844" x2="2722" y2="2700"/>
</g>
<g id="p4-FP1-hl"><ellipse class="hl" cx="2188" cy="1841" rx="61" ry="63"/><text class="val" x="1934" y="1860">4.47</text></g>
<text class="el" transform="translate(2152,2306) rotate(90)" y="30">0.49</text>
<text class="el" transform="translate(2318,2487) rotate(71)" y="30">0.51</text>
<text class="el" transform="translate(2665,2482) rotate(57)" y="30">0.50</text>
<g id="p4-colorbar">
<rect class="bar" x="3210" y="1694" width="73" height="1230"/>
<line class="tick" x1="3270" y1="1729" x2="3283" y2="1729"/><text class="tl" x="3302" y="1744">0.5</text>
<line class="tick" x1="3270" y1="1849" x2="3283" y2="1849"/><text class="tl" x="3302" y="1864">0.45</text>
<line class="tick" x1="3270" y1="1968" x2="3283" y2="1968"/><text class="tl" x="3302" y="1983">0.4</text>
<line class="tick" x1="3270" y1="2088" x2="3283" y2="2088"/><text class="tl" x="3302" y="2103">0.35</text>
<line class="tick" x1="3270" y1="2207" x2="3283" y2="2207"/><text class="tl" x="3302" y="2222">0.3</text>
<line class="tick" x1="3270" y1="2327" x2="3283" y2="2327"/><text class="tl" x="3302" y="2342">0.25</text>
<line class="tick" x1="3270" y1="2446" x2="3283" y2="2446"/><text class="tl" x="3302" y="2461">0.2</text>
<line class="tick" x1="3270" y1="2566" x2="3283" y2="2566"/><text class="tl" x="3302" y="2581">0.15</text>
<line class="tick" x1="3270" y1="2685" x2="3283" y2="2685"/><text class="tl" x="3302" y="2700">0.1</text>
<line class="tick" x1="3270" y1="2805" x2="3283" y2="2805"/><text class="tl" x="3302" y="2820">0.05</text>
</g>
</g>
</svg>
